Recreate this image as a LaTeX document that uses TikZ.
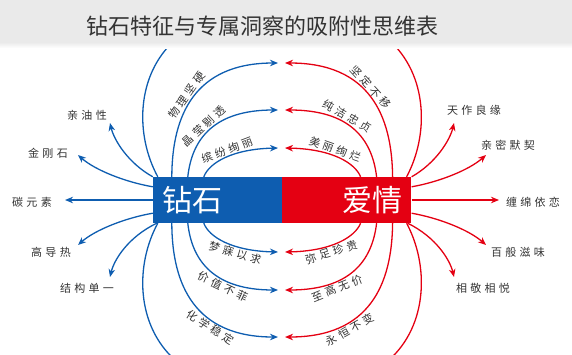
\documentclass[tikz,border=0pt]{standalone}
\usepackage{fontspec}
\setmainfont{Noto Sans CJK SC}
\newfontfamily\cjkwide[LetterSpace=30]{Noto Sans CJK SC}
\usepackage{tikz}
\usetikzlibrary{positioning,arrows.meta}
\definecolor{zsblue}{RGB}{14,93,176}
\definecolor{aqred}{RGB}{228,0,18}
\definecolor{txtgray}{RGB}{51,51,51}
\definecolor{bandgray}{RGB}{234,234,234}

\begin{document}
\begin{tikzpicture}[
  x=1pt, y=-1pt,
  font=\cjkwide\fontsize{11}{13}\selectfont,
  >={Stealth[length=8pt, width=6.5pt, inset=2.5pt]},
  barbox/.style={minimum width=129pt, minimum height=46pt, inner xsep=9pt, inner ysep=0pt,
    text width=111pt, text=white, font=\fontsize{30}{32}\selectfont},
  tag/.style={text=txtgray, inner sep=1pt},
  lbl/.style={sloped, text=txtgray, inner sep=1pt},
  arrB/.style={zsblue, line width=1.3pt, ->},
  arrR/.style={aqred, line width=1.3pt, ->},
  lineB/.style={zsblue, line width=1.3pt},
  lineR/.style={aqred, line width=1.3pt},
]
  \clip (0,0) rectangle (572,354);
  % The bar: two halves
  \node[barbox, fill=zsblue, align=left] (zs) at (217.5,200) {钻石};
  \node[barbox, fill=aqred, align=right, right=0pt of zs] (aq) {爱情};

  % Arrow tips meeting in the middle
  \coordinate (bt1) at (278,148); \coordinate (rt1) at (285,148);
  \coordinate (bt2) at (278,110); \coordinate (rt2) at (285,110);
  \coordinate (bt3) at (278,63);  \coordinate (rt3) at (285,63);
  \coordinate (bb1) at (278,252); \coordinate (rb1) at (285,252);
  \coordinate (bb2) at (278,290); \coordinate (rb2) at (285,290);
  \coordinate (bb3) at (278,337); \coordinate (rb3) at (285,337);
  % Upper arcs
  \draw[arrB] ([xshift=51pt]zs.north west) .. controls (209,163) and (232,149) .. (bt1)
    node[lbl, above, pos=0.55] {缤纷绚丽};
  \draw[arrB] ([xshift=35pt]zs.north west) .. controls (192,138) and (215,110) .. (bt2)
    node[lbl, above, pos=0.47] {晶莹剔透};
  \draw[arrB] ([xshift=19pt]zs.north west) .. controls (172,115) and (195,63) .. (bt3)
    node[lbl, above, pos=0.48] {物理坚硬};
  \draw[arrR] ([xshift=-51pt]aq.north east) .. controls (355,163) and (332,149) .. (rt1)
    node[lbl, above, pos=0.57] {美丽绚烂};
  \draw[arrR] ([xshift=-35pt]aq.north east) .. controls (372,138) and (349,110) .. (rt2)
    node[lbl, above, pos=0.6] {纯洁忠贞};
  \draw[arrR] ([xshift=-19pt]aq.north east) .. controls (392,115) and (369,63) .. (rt3)
    node[lbl, above, pos=0.54] {坚定不移};
  % Lower arcs
  \draw[arrB] ([xshift=51pt]zs.south west) .. controls (209,237) and (232,251) .. (bb1)
    node[lbl, below, pos=0.64] {梦寐以求};
  \draw[arrB] ([xshift=35pt]zs.south west) .. controls (192,262) and (215,290) .. (bb2)
    node[lbl, below, pos=0.65] {价值不菲};
  \draw[arrB] ([xshift=19pt]zs.south west) .. controls (172,285) and (195,337) .. (bb3)
    node[lbl, below, pos=0.67] {化学稳定};
  \draw[arrR] ([xshift=-51pt]aq.south east) .. controls (355,237) and (332,251) .. (rb1)
    node[lbl, below, pos=0.61] {弥足珍贵};
  \draw[arrR] ([xshift=-35pt]aq.south east) .. controls (372,262) and (349,290) .. (rb2)
    node[lbl, below, pos=0.68] {至高无价};
  \draw[arrR] ([xshift=-19pt]aq.south east) .. controls (392,285) and (369,337) .. (rb3)
    node[lbl, below, pos=0.69] {永恒不变};
  % Outer loops, cut by the edges
  \coordinate (ob1) at (175,40);  \coordinate (or1) at (389,40);
  \coordinate (ob2) at (175,360); \coordinate (or2) at (389,360);
  \draw[lineB] ([xshift=5pt]zs.north west) .. controls (135,135) and (136,75) .. (ob1);
  \draw[lineR] ([xshift=-5pt]aq.north east) .. controls (429,135) and (428,75) .. (or1);
  \draw[lineB] ([xshift=5pt]zs.south west) .. controls (135,265) and (136,325) .. (ob2);
  \draw[lineR] ([xshift=-5pt]aq.south east) .. controls (429,265) and (428,325) .. (or2);

  % Left side: outward blue arrows
  \node[tag] (qy) at (87,115)  {亲油性};
  \node[tag] (jg) at (48,153)  {金刚石};
  \node[tag] (ty) at (32,202)  {碳元素};
  \node[tag] (gd) at (51,252)  {高导热};
  \node[tag] (jc) at (87,288)  {结构单一};
  \coordinate (qyt) at (110,123);
  \coordinate (jgt) at (78,155);
  \coordinate (tyt) at (65,200);
  \coordinate (gdt) at (78,245);
  \coordinate (jct) at (110,277);
  \draw[arrB] (zs.north west) .. controls (128,163) and (114,140) .. (qyt);
  \draw[arrB] ([yshift=-10pt]zs.north west) .. controls (125,182) and (95,170) .. (jgt);
  \draw[arrB] (zs.west) -- (tyt);
  \draw[arrB] ([yshift=10pt]zs.south west) .. controls (125,218) and (95,230) .. (gdt);
  \draw[arrB] ([xshift=4pt]zs.south west) .. controls (128,237) and (114,260) .. (jct);

  % Right side: outward red arrows
  \node[tag] (tz) at (474,110) {天作良缘};
  \node[tag] (qm) at (508,145) {亲密默契};
  \node[tag] (cm) at (533,202) {缠绵依恋};
  \node[tag] (bb) at (518,252) {百般滋味};
  \node[tag] (xj) at (483,288) {相敬相悦};
  \coordinate (tzt) at (454,123);
  \coordinate (qmt) at (486,155);
  \coordinate (cmt) at (499,200);
  \coordinate (bbt) at (486,245);
  \coordinate (xjt) at (454,277);
  \draw[arrR] (aq.north east) .. controls (436,163) and (450,140) .. (tzt);
  \draw[arrR] ([yshift=-10pt]aq.north east) .. controls (439,182) and (469,170) .. (qmt);
  \draw[arrR] (aq.east) -- (cmt);
  \draw[arrR] ([yshift=10pt]aq.south east) .. controls (439,218) and (469,230) .. (bbt);
  \draw[arrR] ([xshift=-4pt]aq.south east) .. controls (436,237) and (450,260) .. (xjt);

  % Title band on top
  \fill[bandgray] (0,0) rectangle (572,42);
  \shade[top color=bandgray, bottom color=white] (0,42) rectangle (572,48);
  \node[text=txtgray, font=\fontsize{22}{26}\selectfont] (title) at (262,26)
    {钻石特征与专属洞察的吸附性思维表};
\end{tikzpicture}
\end{document}
